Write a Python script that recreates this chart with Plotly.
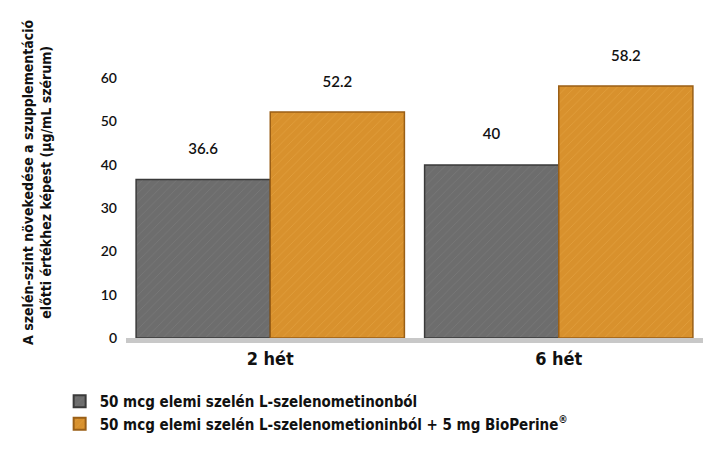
import plotly.graph_objects as go

# Adatok
kategoriak = ["2 hét", "6 hét"]
alap_ertekek = [36.6, 40]
bioperine_ertekek = [52.2, 58.2]
sorozat_nevek = [
    "50 mcg elemi szelén L-szelenometinonból",
    "50 mcg elemi szelén L-szelenometioninból + 5 mg BioPerine<sup>®</sup>",
]
y_tickek = [0, 10, 20, 30, 40, 50, 60]

KESKENY = "DejaVu Sans Condensed, Roboto, sans-serif"
SZAM = "Lato, Open Sans, sans-serif"

fig = go.Figure()

fig.add_trace(go.Bar(
    x=kategoriak, y=alap_ertekek, name=sorozat_nevek[0],
    marker=dict(
        color="#6d6d6d",
        line=dict(color="#3a3a3a", width=1.5),
        pattern=dict(shape="/", fgcolor="#8a8a8a", fgopacity=0.35, size=6, solidity=0.15),
    ),
    text=alap_ertekek, texttemplate="%{y}<br> ", textposition="outside",
    textfont=dict(family=SZAM, size=15, color="#111111", weight=600),
    cliponaxis=False,
))

fig.add_trace(go.Bar(
    x=kategoriak, y=bioperine_ertekek, name=sorozat_nevek[1],
    marker=dict(
        color="#d8912d",
        line=dict(color="#9a5f16", width=1.5),
        pattern=dict(shape="/", fgcolor="#f0b457", fgopacity=0.35, size=6, solidity=0.15),
    ),
    text=bioperine_ertekek, texttemplate="%{y}<br> ", textposition="outside",
    textfont=dict(family=SZAM, size=15, color="#111111", weight=600),
    cliponaxis=False,
))

fig.update_layout(
    width=720, height=450,
    margin=dict(l=118, r=25, t=53, b=120),
    paper_bgcolor="white", plot_bgcolor="white",
    barmode="group", bargap=0.07, bargroupgap=0.0,
    showlegend=True,
    legend=dict(
        orientation="v", x=-0.115, y=-0.17, xanchor="left", yanchor="top",
        font=dict(family=KESKENY, size=15, color="#111111", weight=600),
        tracegroupgap=2, itemsizing="constant",
    ),
    font=dict(family=KESKENY, color="#111111"),
)

fig.update_xaxes(
    showline=True, linecolor="#c8c8c8", linewidth=5,
    ticks="", showgrid=False,
    tickfont=dict(family=KESKENY, size=18, color="#111111", weight="bold"),
)
fig.update_yaxes(
    range=[0, 64], tickvals=y_tickek, showgrid=False, zeroline=False,
    showline=False, ticks="",
    tickfont=dict(family=SZAM, size=14, color="#111111", weight=600),
    ticklabelstandoff=8,
)

# Tengely cím (két sor, elforgatva)
fig.add_annotation(
    text="A szelén-szint növekedése a szupplementáció<br>előtti értékhez képest (µg/mL szérum)",
    xref="paper", yref="paper", x=0, y=0.56, xanchor="right", yanchor="middle",
    xshift=-70, textangle=-90, showarrow=False,
    font=dict(family=KESKENY, size=14, color="#111111", weight=600),
)

fig.write_html("out.html")
